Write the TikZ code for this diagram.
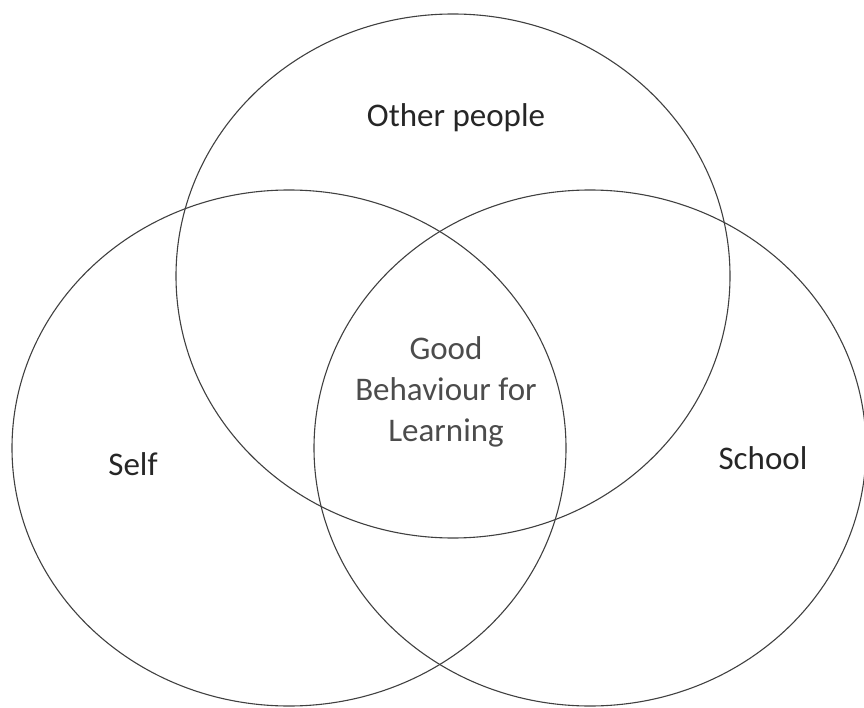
\documentclass[tikz,border=0pt]{standalone}
\usepackage{fontspec}
\setmainfont{Carlito}
\usepackage{tikz}
\tikzset{
RING/.style ={draw=black!75,line width=1.1pt},
LABEL/.style ={text=black!85,font=\fontsize{33}{41}\selectfont,inner sep=0pt},
CORE/.style ={LABEL,text=black!70,align=center},
}

\begin{document}
\begin{tikzpicture} [x=1pt, y=-1pt] %Venn of three circles
	\useasboundingbox (0,0) rectangle (864,708);
	\coordinate (OTHERS) at (453,276);
	\coordinate (SELF) at (289,448);
	\coordinate (SCHOOL) at (590,448);
	\path[RING] (OTHERS) ellipse [x radius=277, y radius=262];
	\path[RING] (SELF) ellipse [x radius=277, y radius=258];
	\path[RING] (SCHOOL) ellipse [x radius=276, y radius=258];
	\node[LABEL] (others) at (456,118) {Other people};
	\node[LABEL] (self) at (133,464) {Self};
	\node[LABEL] (school) at (763,458) {School};
	\node[CORE] (good) at (446,392) {Good\\Behaviour for\\Learning};
\end{tikzpicture}
\end{document}
